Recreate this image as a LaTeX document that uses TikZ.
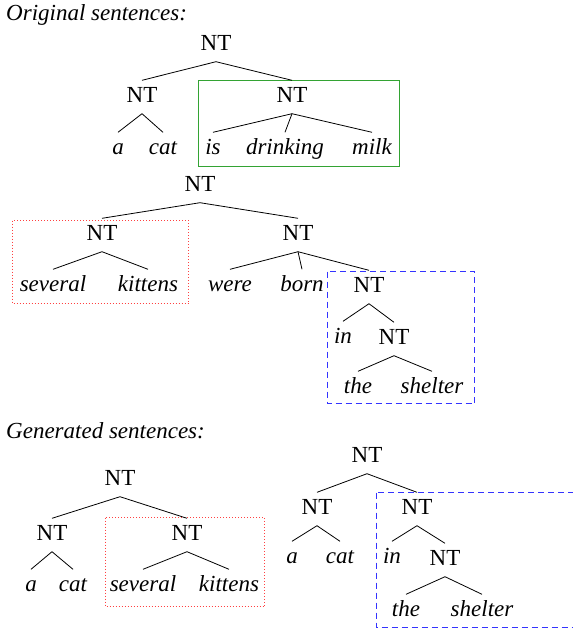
\documentclass[tikz,border=0pt]{standalone}
\usepackage{fontspec}
\setmainfont{Liberation Serif}
\newfontfamily\treefont{Liberation Serif}
\usepackage{tikz}

\begin{document}
\begin{tikzpicture}[x=1pt,y=-1pt,
    lbl/.style={font=\treefont\fontsize{23}{27}\selectfont, inner xsep=0pt, inner ysep=6pt, text height=16pt, text depth=5pt},
    wrd/.style={lbl, font=\treefont\fontsize{23}{27}\selectfont\itshape},
    edge/.style={black, line width=0.8pt},
    keepbox/.style={draw=green!55!black!80, line width=1pt},
    swapbox/.style={draw=red!75, line width=1pt, dotted},
    movebox/.style={draw=blue!80, line width=1pt, dash pattern=on 6pt off 4pt}]
                \clip (0,0) rectangle (573,630);

                % Draw headings
                \node[wrd, anchor=west] (orig) at (6,15) {Original sentences:};
                \node[wrd, anchor=west] (gen) at (6,433) {Generated sentences:};

                % Draw first tree
                \node[lbl] (r1) at (216,45) {NT};
                \node[lbl] (r1a) at (142,97) {NT};
                \node[lbl] (r1b) at (292,97) {NT};
                \node[wrd] (a1) at (118,149) {a};
                \node[wrd] (cat1) at (163,149) {cat};
                \node[wrd] (is1) at (213,149) {is};
                \node[wrd] (drinking1) at (285,149) {drinking};
                \node[wrd] (milk1) at (372,149) {milk};
                \draw[keepbox] (198.5,80.5) rectangle (399.5,166.5);
                \foreach \c in {r1a,r1b} {
                    \draw[edge] (r1.south) -- (\c.north);
                }
                \foreach \c in {a1,cat1} {
                    \draw[edge] (r1a.south) -- (\c.north);
                }
                \foreach \c in {is1,drinking1,milk1} {
                    \draw[edge] (r1b.south) -- (\c.north);
                }

                % Draw second tree
                \node[lbl] (r2) at (200,186) {NT};
                \node[lbl] (r2a) at (102,235) {NT};
                \node[lbl] (r2b) at (298,235) {NT};
                \node[wrd] (several2) at (53,286) {several};
                \node[wrd] (kittens2) at (148,286) {kittens};
                \node[wrd] (were2) at (230,286) {were};
                \node[wrd] (born2) at (302,286) {born};
                \node[lbl] (r2c) at (369,287) {NT};
                \node[wrd] (in2) at (343,338) {in};
                \node[lbl] (r2d) at (394,339) {NT};
                \node[wrd] (the2) at (358,388) {the};
                \node[wrd] (shelter2) at (432,388) {shelter};
                \draw[swapbox] (12.5,220.5) rectangle (188.5,303.5);
                \draw[movebox] (327.5,271.5) rectangle (474.5,403.5);
                \foreach \c in {r2a,r2b} {
                    \draw[edge] (r2.south) -- (\c.north);
                }
                \foreach \c in {several2,kittens2} {
                    \draw[edge] (r2a.south) -- (\c.north);
                }
                \foreach \c in {were2,born2,r2c} {
                    \draw[edge] (r2b.south) -- (\c.north);
                }
                \foreach \c in {in2,r2d} {
                    \draw[edge] (r2c.south) -- (\c.north);
                }
                \foreach \c in {the2,shelter2} {
                    \draw[edge] (r2d.south) -- (\c.north);
                }

                % Draw third tree
                \node[lbl] (r3) at (120,480) {NT};
                \node[lbl] (r3a) at (52,535) {NT};
                \node[lbl] (r3b) at (187,535) {NT};
                \node[wrd] (a3) at (31,586) {a};
                \node[wrd] (cat3) at (73,586) {cat};
                \node[wrd] (several3) at (143,586) {several};
                \node[wrd] (kittens3) at (229,586) {kittens};
                \draw[swapbox] (105.5,517.5) rectangle (264.5,606.5);
                \foreach \c in {r3a,r3b} {
                    \draw[edge] (r3.south) -- (\c.north);
                }
                \foreach \c in {a3,cat3} {
                    \draw[edge] (r3a.south) -- (\c.north);
                }
                \foreach \c in {several3,kittens3} {
                    \draw[edge] (r3b.south) -- (\c.north);
                }

                % Draw fourth tree
                \node[lbl] (r4) at (367,457) {NT};
                \node[lbl] (r4a) at (317,509) {NT};
                \node[lbl] (r4b) at (417,509) {NT};
                \node[wrd] (a4) at (292,558) {a};
                \node[wrd] (cat4) at (340,558) {cat};
                \node[wrd] (in4) at (392,558) {in};
                \node[lbl] (r4c) at (445,560) {NT};
                \node[wrd] (the4) at (406,611) {the};
                \node[wrd] (shelter4) at (482,611) {shelter};
                \draw[movebox] (376.5,492.5) rectangle (600,627.5);
                \foreach \c in {r4a,r4b} {
                    \draw[edge] (r4.south) -- (\c.north);
                }
                \foreach \c in {a4,cat4} {
                    \draw[edge] (r4a.south) -- (\c.north);
                }
                \foreach \c in {in4,r4c} {
                    \draw[edge] (r4b.south) -- (\c.north);
                }
                \foreach \c in {the4,shelter4} {
                    \draw[edge] (r4c.south) -- (\c.north);
                }
            \end{tikzpicture}
\end{document}
